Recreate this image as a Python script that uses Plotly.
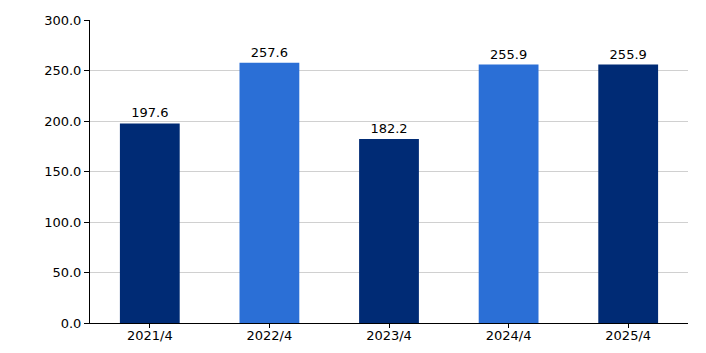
import plotly.graph_objects as go

categories = ["2021/4", "2022/4", "2023/4", "2024/4", "2025/4"]
values = [197.6, 257.6, 182.2, 255.9, 255.9]
colors = ["#002B75", "#2B6FD6", "#002B75", "#2B6FD6", "#002B75"]
y_ticks = [0, 50, 100, 150, 200, 250, 300]

fig = go.Figure(go.Bar(
    x=categories, y=values,
    marker=dict(color=colors, line=dict(width=0)),
    width=0.5,
    text=[f"{v:.1f}" for v in values],
    textposition="outside",
    textfont=dict(family="DejaVu Sans", size=13, color="#000000"),
    cliponaxis=False,
))

fig.update_layout(
    width=706, height=353,
    margin=dict(l=90, r=18, t=20, b=30),
    plot_bgcolor="white", paper_bgcolor="white",
    font=dict(family="DejaVu Sans", size=13, color="#000000"),
    showlegend=False,
    bargap=0.5,
)
fig.update_xaxes(
    automargin=False,
    showline=True, linecolor="#000000", linewidth=1,
    ticks="outside", ticklen=4, tickcolor="#000000",
    ticklabelstandoff=-4,
    showgrid=False,
)
fig.update_yaxes(
    automargin=False,
    range=[0, 300], tickvals=y_ticks,
    ticktext=[f"{v:.1f}" for v in y_ticks],
    showline=True, linecolor="#000000", linewidth=1,
    ticks="outside", ticklen=5, tickcolor="#000000",
    showgrid=True, gridcolor="#D0D0D0", gridwidth=1,
    zeroline=False,
)

fig.write_html("out.html")
